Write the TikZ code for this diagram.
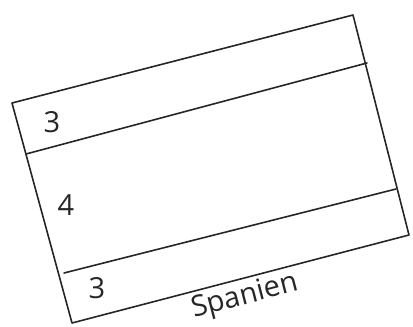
\documentclass[tikz,border=0pt]{standalone}
\usepackage{fontspec}
\setmainfont{Open Sans}
\begin{document}
\begin{tikzpicture}[x=1pt,y=-1pt,
  edge/.style={draw=black!85,line width=1.6pt,line cap=round,line join=round},
  lab/.style={font=\fontsize{29}{30}\selectfont,text=black!85,inner sep=0pt}]
\useasboundingbox (0,0) rectangle (413,327);
\coordinate (tl) at (12,103);
\coordinate (tr) at (353,15);
\coordinate (br) at (409,235);
\coordinate (bl) at (72,323);
\coordinate (s1l) at (26,154);
\coordinate (s1r) at (367,63);
\coordinate (s2l) at (64,273);
\coordinate (s2r) at (396,189);
\draw[edge] (tl) -- (tr) -- (br) -- (bl) -- cycle;
\draw[edge] (s1l) -- (s1r);
\draw[edge] (s2l) -- (s2r);
\node[lab] (n1) at (52,122) {3};
\node[lab] (n2) at (66,205) {4};
\node[lab] (n3) at (97,288) {3};
\node[lab,rotate=14.5] (sp) at (245,297) {Spanien};
\end{tikzpicture}
\end{document}
